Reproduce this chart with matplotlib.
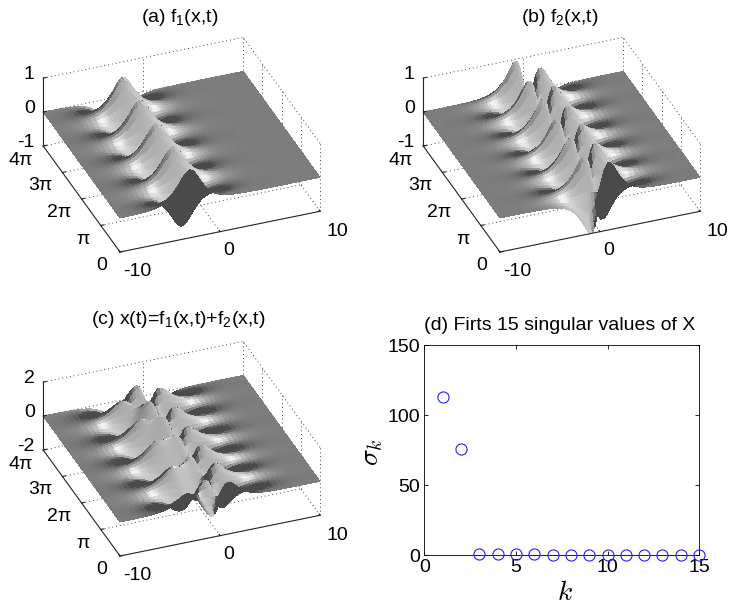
import numpy as np
import matplotlib
matplotlib.use('Agg')
import matplotlib.pyplot as plt
from mpl_toolkits.mplot3d import proj3d

plt.rcParams['font.family'] = ['Liberation Sans', 'DejaVu Sans']
plt.rcParams['mathtext.default'] = 'regular'
plt.rcParams['mathtext.fontset'] = 'custom'
plt.rcParams['mathtext.rm'] = 'Liberation Sans'

W, H = 729, 607
PI = np.pi

# x grid of the surfaces
x_vals = [-10, -9.5, -9, -8.5, -8, -7.5, -7, -6.5,
          -6, -5.75, -5.5, -5.25, -5, -4.75, -4.5, -4.25, -4, -3.75, -3.5, -3.25,
          -3, -2.75, -2.5, -2.25, -2, -1.75, -1.5, -1.25, -1, -0.75, -0.5, -0.25,
          0, 0.25, 0.5, 0.75, 1, 1.25, 1.5, 1.75, 2, 2.25, 2.5, 2.75,
          3, 3.25, 3.5, 3.75, 4,
          4.5, 5, 5.5, 6, 6.5, 7, 7.5, 8, 8.5, 9, 9.5, 10]

# cross section of f1 along x
profile1 = [.002, .003, .005, .008, .013, .022, .037, .060,
            .099, .127, .163, .208, .266, .337, .425, .530, .648, .772, .887, .970,
            1.0, .970, .887, .772, .648, .530, .425, .337, .266, .208, .163, .127,
            .099, .077, .060, .047, .037, .029, .022, .017, .013, .011, .008, .006,
            .005, .004, .003, .002, .002,
            .001, .001, 0, 0, 0, 0, 0, 0, 0, 0, 0, 0]

# cross section of f2 along x
profile2 = [0, 0, -.001, -.001, -.001, -.002, -.004, -.006,
            -.010, -.013, -.016, -.021, -.027, -.035, -.044, -.057, -.073, -.094, -.120, -.154,
            -.198, -.253, -.322, -.408, -.512, -.635, -.770, -.898, -.987, -.981, -.820, -.475,
            0, .475, .820, .981, .987, .898, .770, .635, .512, .408, .322, .253,
            .198, .154, .120, .094, .073,
            .044, .027, .016, .010, .006, .004, .002, .001, .001, .001, 0, 0]

# swing of each mode in t, steps of pi/16 from 0 to 4 pi
swing1 = [1.0, .900, .619, .214, -.233, -.635, -.908, -1.0, -.891, -.604, -.195, .253, .649,
          .916, .999, .882, .588, .176, -.271, -.664, -.924, -.998, -.873, -.572, -.156, .290,
          .679, .931, .997, .863, .556, .137, -.309, -.693, -.938, -.995, -.853, -.539, -.118,
          .328, .707, .945, .993, .842, .522, .098, -.346, -.721, -.951, -.991, -.831, -.506,
          -.078, .365, .734, .957, .988, .820, .489, .059, -.383, -.747, -.962, -.984, -.809]
swing2 = [1.0, .853, .454, -.078, -.588, -.924, -.988, -.760, -.309, .233, .707, .972, .951,
          .649, .156, -.383, -.809, -.997, -.891, -.522, 0, .522, .891, .997, .809, .383,
          -.156, -.649, -.951, -.972, -.707, -.233, .309, .760, .988, .924, .588, .078, -.454,
          -.853, -1.0, -.853, -.454, .078, .588, .924, .988, .760, .309, -.233, -.707, -.972,
          -.951, -.649, -.156, .383, .809, .997, .891, .522, 0, -.522, -.891, -.997, -.809]

k_vals = [1, 2, 3, 4, 5, 6, 7, 8, 9, 10, 11, 12, 13, 14, 15]
sigma_vals = [113, 75.5, .6, .6, .6, .6, .2, .2, .2, .2, .1, .1, .1, .1, .1]

x = np.array(x_vals, dtype=float)
t = np.arange(len(swing1)) * PI / 16
f1 = np.outer(swing1, profile1)
f2 = np.outer(swing2, profile2)

# same light as surfl, az+45 from the view
AZ, EL = -21.0, 32.0
GAIN = 5.0


def sph(az, el):
    a, e = np.radians(az), np.radians(el)
    return np.array([np.sin(a) * np.cos(e), -np.cos(a) * np.cos(e), np.sin(e)])


def shade(Z):
    zt, zx = np.gradient(Z, t, x)
    n = np.stack([-GAIN * zx, -GAIN * zt, np.ones_like(Z)], axis=-1)
    n /= np.linalg.norm(n, axis=-1, keepdims=True)
    L = sph(AZ + 45, EL)
    V = sph(AZ, EL)
    nl = n @ L
    r = 2 * nl[..., None] * n - L
    spec = np.clip(r @ V, 0, 1) ** 10
    g = 0.108 + 0.72 * np.clip(nl, 0, 1) + 0.2 * spec
    g = np.clip(g, 0.29, 0.95)
    return np.stack([g, g, g, np.ones_like(g)], axis=-1)


fig = plt.figure(figsize=(W / 100, H / 100), dpi=100)


def to_px(ax, px, py, pz):
    xs, ys, _ = proj3d.proj_transform(px, py, pz, ax.get_proj())
    return ax.transData.transform((xs, ys))


def panel(Z, zlim, zticks, origin):
    ox, oy = origin
    X, T = np.meshgrid(x, t)
    ax = fig.add_axes([0, 0, 1, 1], projection='3d', computed_zorder=False)
    ax.set_proj_type('ortho')
    ax.view_init(elev=EL, azim=AZ - 90)
    ax.set_box_aspect((1, 1, 0.374))
    ax.set_xlim(-10, 10)
    ax.set_ylim(0, 4 * PI)
    ax.set_zlim(*zlim)
    ax.set_axis_off()
    ax.patch.set_alpha(0)

    # fit the axes so the floor corners land where they should
    ax.set_position([0.1, 0.1, 0.8 * H / W, 0.8])
    ax.apply_aspect()
    a = to_px(ax, -10, 0, zlim[0])
    b = to_px(ax, 10, 0, zlim[0])
    p = ax.get_position()
    scale = 200.0 / (b[0] - a[0])
    w, h = p.width * scale, p.height * scale
    ax.set_position([p.x0, p.y0, w, h])
    ax.apply_aspect()
    a = to_px(ax, -10, 0, zlim[0])
    p = ax.get_position()
    ax.set_position([p.x0 + (ox - a[0]) / W, p.y0 + (H - oy - a[1]) / H, p.width, p.height])
    ax.apply_aspect()

    z0, z1 = zlim
    zm = zticks[1]
    T4 = 4 * PI
    dot = dict(color='#444444', lw=0.7, ls=(0, (1, 3)), zorder=1)
    # back walls and floor grid
    for tt in [PI, 2 * PI, 3 * PI]:
        ax.plot([-10, 10], [tt, tt], [z0, z0], **dot)
        ax.plot([10, 10], [tt, tt], [z0, z1], **dot)
    ax.plot([-10, 10], [T4, T4], [z0, z0], **dot)
    ax.plot([10, 10], [0, T4], [z0, z0], **dot)
    ax.plot([0, 0], [0, T4], [z0, z0], **dot)
    ax.plot([0, 0], [T4, T4], [z0, z1], **dot)
    ax.plot([10, 10], [T4, T4], [z0, z1], **dot)
    ax.plot([10, 10], [0, 0], [z0, z1], **dot)
    ax.plot([-10, 10], [T4, T4], [z1, z1], **dot)
    ax.plot([10, 10], [0, T4], [z1, z1], **dot)
    ax.plot([-10, 10], [T4, T4], [zm, zm], **dot)
    ax.plot([10, 10], [0, T4], [zm, zm], **dot)

    ax.plot_surface(X, T, Z, rstride=1, cstride=1, facecolors=shade(Z), shade=False,
                    linewidth=0, antialiased=False, zorder=2)

    # solid axes
    sol = dict(color='#222222', lw=0.8, zorder=3)
    ax.plot([-10, 10], [0, 0], [z0, z0], **sol)
    ax.plot([-10, -10], [0, T4], [z0, z0], **sol)
    ax.plot([-10, -10], [T4, T4], [z0, z1], **sol)
    for xt in [-10, 0, 10]:
        ax.plot([xt, xt], [0, 0.15], [z0, z0], **sol)
    for tt in [0, PI, 2 * PI, 3 * PI, T4]:
        ax.plot([-10, -9.7], [tt, tt], [z0, z0], **sol)
    for zz in zticks:
        ax.plot([-10, -9.7], [T4, T4], [zz, zz], **sol)

    # tick labels
    note = dict(xycoords='data', textcoords='offset pixels', ha='center', va='center',
                fontsize=14, annotation_clip=False)
    for xt, off in zip([-10, 0, 10], [(17, -19), (9, -19), (17, -20)]):
        xs, ys, _ = proj3d.proj_transform(xt, 0, z0, ax.get_proj())
        ax.annotate(str(xt), (xs, ys), xytext=off, **note)
    for tt, lab, off in zip([0, PI, 2 * PI, 3 * PI, T4], ['0', 'π', '2π', '3π', '4π'],
                            [(-18, -13), (-18, -14), (-22, -13), (-22, -13), (-23, -14)]):
        xs, ys, _ = proj3d.proj_transform(-10, tt, z0, ax.get_proj())
        ax.annotate(lab, (xs, ys), xytext=off, **note)
    for zz in zticks:
        xs, ys, _ = proj3d.proj_transform(-10, T4, zz, ax.get_proj())
        ax.annotate(str(zz), (xs, ys), xytext=(-14 - 3 * (zz < 0), 4), **note)
    return ax


panel(f1, (-1, 1), [-1, 0, 1], (120, 252))
panel(f2, (-1, 1), [-1, 0, 1], (500, 252))
panel(f1 + f2, (-2, 2), [-2, 0, 2], (120, 556))

fig.text(180 / W, 1 - 22 / H, '(a) f$_1$(x,t)', ha='center', va='baseline', fontsize=14)
fig.text(560 / W, 1 - 22 / H, '(b) f$_2$(x,t)', ha='center', va='baseline', fontsize=14)
fig.text(178 / W, 1 - 324 / H, '(c) x(t)=f$_1$(x,t)+f$_2$(x,t)', ha='center', va='baseline', fontsize=14)

# singular values
ax4 = fig.add_axes([424.5 / W, 1 - 555 / H, 274.5 / W, 210 / H])
ax4.plot(k_vals, sigma_vals, 'o', mfc='none', mec='#2020ff', ms=8, mew=0.8, clip_on=False, zorder=5)
ax4.set_xlim(0, 15)
ax4.set_ylim(0, 150)
ax4.set_xticks([0, 5, 10, 15])
ax4.set_yticks([0, 50, 100, 150])
ax4.tick_params(direction='in', top=True, right=True, length=3, width=0.6, labelsize=14, pad=3)
for s in ax4.spines.values():
    s.set_linewidth(0.6)
fig.text(560 / W, 1 - 330 / H, '(d) Firts 15 singular values of X', ha='center', va='baseline', fontsize=14)
fig.text(565 / W, 1 - 593 / H, r'$\mathit{k}$', ha='center', va='center', fontsize=20, math_fontfamily='cm')
fig.text(372 / W, 1 - 452 / H, r'$\mathit{\sigma}_{\mathit{k}}$', ha='center', va='center', fontsize=20,
         rotation=90, math_fontfamily='cm')

fig.savefig('out.png', dpi=100)
